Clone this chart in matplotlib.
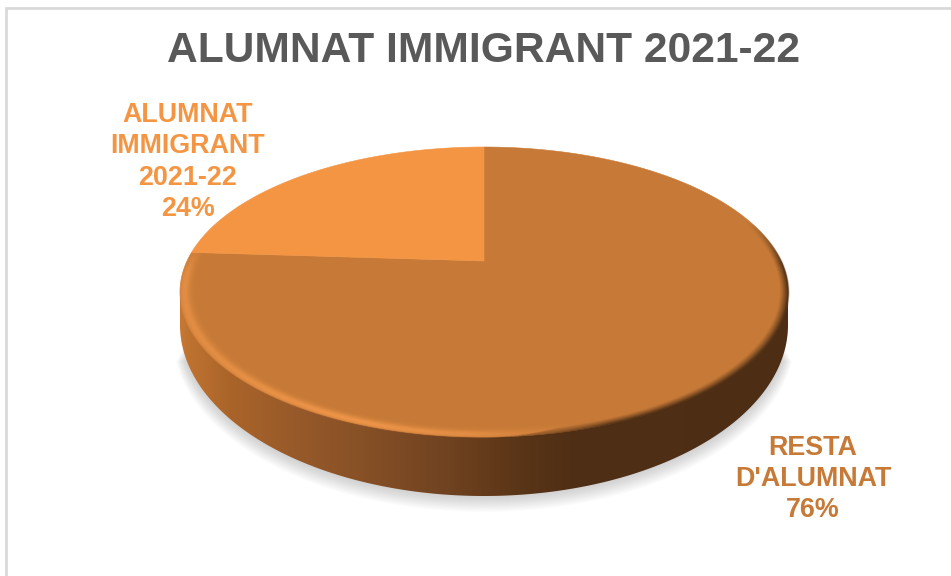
import numpy as np
import matplotlib
matplotlib.use("Agg")
import matplotlib.pyplot as plt
from matplotlib.patches import Polygon
from matplotlib.colors import to_rgb

# --- data ---
title = "ALUMNAT IMMIGRANT 2021-22"
categories = ["RESTA\nD'ALUMNAT", "ALUMNAT\nIMMIGRANT\n2021-22"]
values = [76, 24]
slice_colors = ["#C77A37", "#F49543"]

# --- perspective disc ---
CX, CY = 484.0, 261.0
K = 0.2139
B = 114.0 * (1 + K)
A = 304.0 * np.sqrt(1 - K ** 2)
WALL_CY, WALL_RX, WALL_RY = 325.0, 304.0, 171.0


def project(x, y):
    w = 1 + K * y
    return CX + A * x / w, CY - B * y / w


def unproject(u, v):
    du, dv = u - CX, -(v - CY)
    y = dv / (B - K * dv)
    x = du * (1 + K * y) / A
    return x, y


plt.rcParams["font.family"] = ["Liberation Sans", "DejaVu Sans"]
fig = plt.figure(figsize=(9.51, 5.76), dpi=100)
ax = fig.add_axes([0, 0, 1, 1])
ax.set_xlim(0, 951)
ax.set_ylim(576, 0)
ax.axis("off")

# chart frame
ax.plot([6, 6, 951], [576, 7.5, 7.5], color="#D9D9D9", lw=2, solid_joinstyle="miter")

# wall outline
ang = np.linspace(np.pi, 0, 500)
wx = CX + WALL_RX * np.cos(ang)
wy = WALL_CY + WALL_RY * np.sin(ang)
wall = np.c_[np.r_[CX - WALL_RX, wx, CX + WALL_RX], np.r_[297, wy, 297]]

# soft shadow below the disc
for i in range(12, 0, -1):
    sx = CX + (wx - CX) * (1 + i * 0.0019)
    sy = WALL_CY + (wy - WALL_CY) * (1 + i * 0.0019) + i * 1.0
    ax.fill(sx[22:478], sy[22:478], color="#808080", alpha=0.03, lw=0, zorder=1)

clip_poly = Polygon(wall, closed=True, transform=ax.transData, fc="none", ec="none")
ax.add_patch(clip_poly)
stops_x = [175, 190, 230, 300, 350, 450, 520, 570, 800]
stops_c = ["#CB7B35", "#BE7230", "#AA6429", "#96592A", "#8A5227", "#6F4220", "#5A3517", "#4F2F15", "#4D2E15"]
stops_rgb = np.array([to_rgb(c) for c in stops_c])
gx = np.arange(170, 800)
grad = np.stack([np.interp(gx, stops_x, stops_rgb[:, i]) for i in range(3)], axis=-1)[None, :, :]
im = ax.imshow(grad, extent=(170, 800, 510, 240), aspect="auto", zorder=2, interpolation="bilinear")
im.set_clip_path(clip_poly)

# top surface slices, clockwise from 12 o'clock
fracs = np.array(values, dtype=float) / sum(values)
start = np.pi / 2
for frac, col in zip(fracs, slice_colors):
    th = np.linspace(start, start - frac * 2 * np.pi, 500)
    px, py = project(np.cos(th), np.sin(th))
    ax.fill(np.r_[CX, px], np.r_[CY, py], color=col, lw=0.4, ec=col, zorder=3)
    start -= frac * 2 * np.pi

# bevel along the rim
gu, gv = np.meshgrid(np.arange(170, 800, 0.5), np.arange(130, 460, 0.5))
ux, uy = unproject(gu, gv)
r = np.hypot(ux, uy)
deg = np.mod(np.degrees(np.arctan2(uy, ux)), 360)
light = np.array(to_rgb("#F59A4C"))
dark = np.array(to_rgb("#4D2E15"))
lw = np.interp(deg, [0, 172, 185, 215, 250, 268, 285, 360], [0, 0, 0.6, 0.6, 0.85, 0.6, 0, 0])
dw = np.interp(deg, [0, 8, 18, 268, 290, 360], [0.9, 0.5, 0, 0, 1, 1])
a_light = lw * np.exp(-((r - 0.986) / 0.017) ** 2)
a_dark = dw * np.clip((r - 0.972) / 0.028, 0, 1) ** 1.2
alpha = np.maximum(a_light, a_dark) * np.clip((1.004 - r) / 0.004, 0, 1)
mix = np.where(a_dark > a_light, 1.0, 0.0)[..., None]
rgba = np.zeros(gu.shape + (4,))
rgba[..., :3] = mix * dark + (1 - mix) * light
rgba[..., 3] = alpha
ax.imshow(rgba, extent=(170, 800, 460, 130), aspect="auto", zorder=4, interpolation="bilinear")

ax.set_xlim(0, 951)
ax.set_ylim(576, 0)

# texts
ax.text(484, 51, title, ha="center", va="center", fontsize=30.6, fontweight="bold", color="#595959")
label_pos = [(813, 479), (188, 162)]
label_col = ["#C77A37", "#F49543"]
for cat, val, (lx, ly), c in zip(categories, values, label_pos, label_col):
    ax.text(lx, ly, f"{cat}\n{val}%", ha="center", va="center", fontsize=19.4,
            fontweight="bold", color=c, linespacing=1.27, zorder=6)

fig.savefig("out.png", dpi=100)
